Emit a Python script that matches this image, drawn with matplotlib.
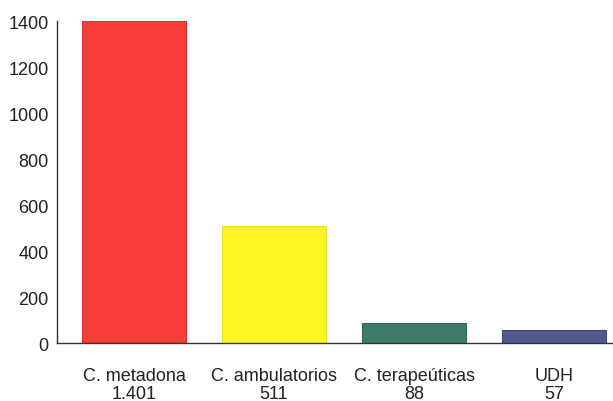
import matplotlib.pyplot as plt

plt.rcParams['font.family'] = ['Liberation Sans', 'DejaVu Sans']

categories = ['C. metadona', 'C. ambulatorios', 'C. terapeúticas', 'UDH']
value_labels = ['1.401', '511', '88', '57']
values = [1401, 511, 88, 57]
colors = ['#f93d39', '#fff424', '#3f7b6d', '#50598c']
edges = ['#e0302c', '#f0e020', '#2f6558', '#3f4878']

fig = plt.figure(figsize=(6.13, 4.02), dpi=100)
ax = fig.add_axes([0.093, 0.144, 0.907, 0.801])

x = range(len(categories))
ax.bar(x, values, width=0.745, color=colors, edgecolor=edges, linewidth=0.8, zorder=2)

ax.set_xlim(-0.55, 3.42)
ax.set_ylim(0, 1400)
ax.set_yticks(range(0, 1401, 200))
ax.set_xticks(list(x))
ax.set_xticklabels([c + '\n' + v for c, v in zip(categories, value_labels)],
                   fontsize=13, linespacing=1.1)
ax.tick_params(axis='y', length=0, pad=6, labelsize=13, labelcolor='#222222')
ax.tick_params(axis='x', length=0, pad=17, labelcolor='#222222')

for s in ['top', 'right']:
    ax.spines[s].set_visible(False)
for s in ['left', 'bottom']:
    ax.spines[s].set_color('#333333')
    ax.spines[s].set_linewidth(1.0)

fig.savefig('out.png', dpi=100)
